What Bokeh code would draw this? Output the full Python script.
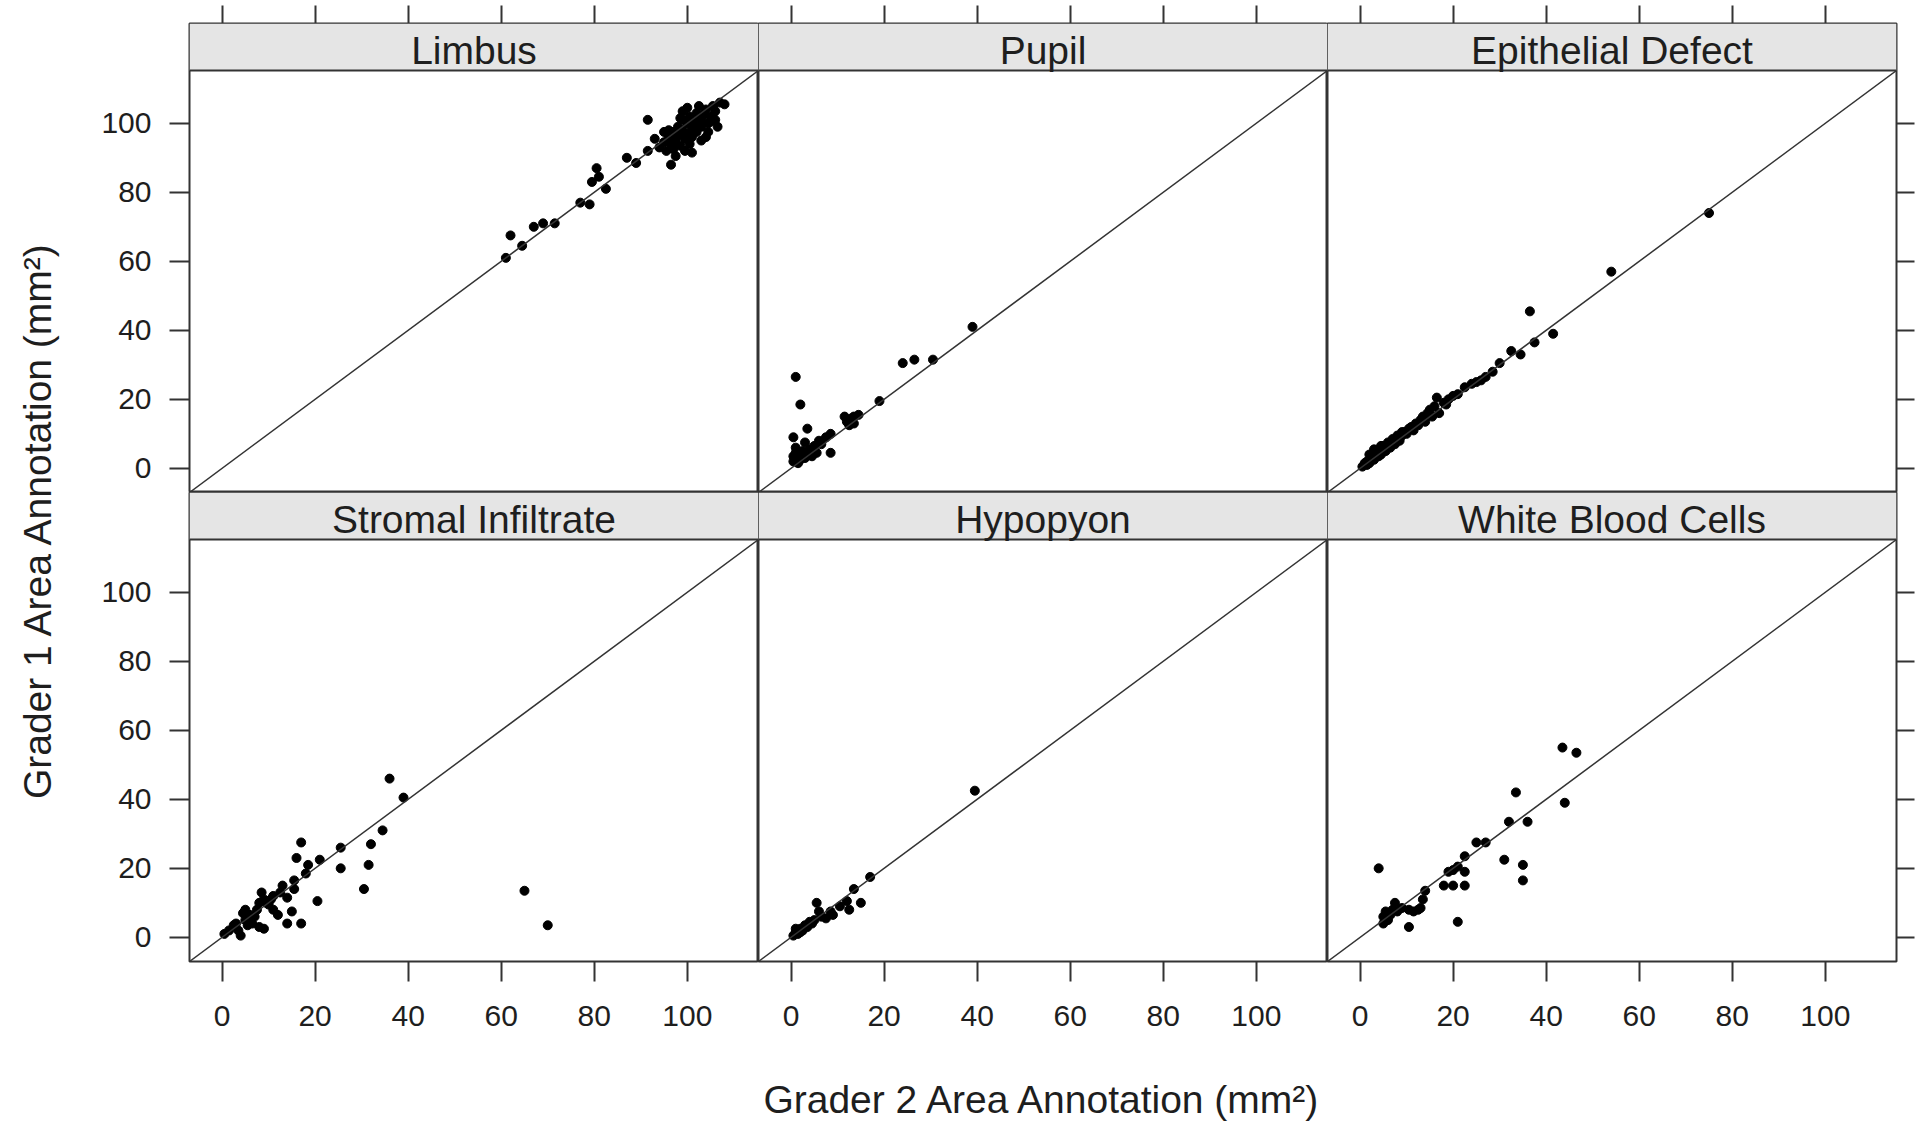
from bokeh.plotting import figure
from bokeh.models import (Range1d, LinearAxis, FixedTicker, Slope, BoxAnnotation, Span,
                          Label, CustomJSTickFormatter)
from bokeh.layouts import gridplot, column, row
from bokeh.embed import file_html
from bokeh.resources import INLINE

# ---------------- data (Grader 2 = x, Grader 1 = y), mm^2 ----------------
panel_names = ["Limbus", "Pupil", "Epithelial Defect",
               "Stromal Infiltrate", "Hypopyon", "White Blood Cells"]
tick_values = [0, 20, 40, 60, 80, 100]

limbus_g2 = [61, 62, 64.5, 67, 69, 71.5, 77, 79, 79.5, 81,
             80.5, 82.5, 87, 89, 91.5, 91.5, 93, 96.5, 94, 95,
             95.5, 96, 96.5, 97, 97, 97.5, 98, 98, 98.5, 99,
             99, 99.5, 100, 100, 100.5, 100.5, 101, 101, 101.5, 102,
             102, 102.5, 103, 103, 103.5, 104, 104, 104.5, 105, 105.5,
             106, 106.5, 107, 108, 96, 98.5, 100, 102.5, 104.5, 97.5,
             99.5, 101, 95, 103, 105, 99, 106]
limbus_g1 = [61, 67.5, 64.5, 70, 71, 71, 77, 76.5, 83, 84.5,
             87, 81, 90, 88.5, 92, 101, 95.5, 88, 93, 94.5,
             92, 96, 94, 97.5, 92.5, 95, 99, 96.5, 93.5, 98,
             101, 95.5, 97, 100, 102, 94, 98.5, 96, 100.5, 103,
             97.5, 99.5, 101, 95, 102.5, 96, 104, 100, 102, 105,
             103.5, 99, 106, 105.5, 98, 101.5, 104.5, 105, 97.5, 90.5,
             92, 91.5, 97.5, 99, 100.5, 103.5, 101]

pupil_g2 = [1, 2, 3.5, 0.5, 1, 1.5, 0.5, 2, 3.5, 5,
            6, 6.5, 4, 3, 1.5, 0.5, 5.5, 7.5, 8.5, 8.5,
            2.5, 4.5, 3, 1, 11.5, 13, 13.5, 14.5, 12.5, 13.5,
            12, 19, 24, 26.5, 30.5, 39]
pupil_g1 = [26.5, 18.5, 11.5, 9, 6, 3.5, 2, 2.5, 4.5, 6.5,
            8, 7, 5.5, 3, 1.5, 3.5, 4.5, 9, 10, 4.5,
            5, 3.5, 7.5, 4.5, 15, 14.5, 13, 15.5, 12.5, 15,
            13.5, 19.5, 30.5, 31.5, 31.5, 41]

epi_g2 = [0.5, 1, 1.5, 2, 2, 2.5, 3, 3, 3.5, 4,
          4, 4.5, 5, 5, 5.5, 6, 6, 6.5, 7, 7,
          7.5, 8, 8, 8.5, 9, 9.5, 10, 10.5, 11, 11.5,
          12, 12.5, 13, 13.5, 14, 14.5, 15, 15.5, 16, 16.5,
          17, 18, 18.5, 19, 20, 21, 22.5, 24, 25, 26,
          27, 28.5, 30, 32.5, 34.5, 36.5, 37.5, 41.5, 54, 75,
          3, 2, 4.5, 9, 1.5]
epi_g1 = [0.5, 1.5, 2, 1.5, 2.5, 3, 2.5, 3.5, 4.5, 3.5,
          5, 4, 5.5, 6.5, 5, 6.5, 7.5, 6, 7.5, 8.5,
          7, 8.5, 9.5, 8, 9.5, 10.5, 10, 11.5, 12, 11,
          13, 12.5, 14, 15, 13.5, 16, 17, 15, 18, 20.5,
          16, 19, 18.5, 20, 21, 21.5, 23.5, 24.5, 25, 25.5,
          26.5, 28, 30.5, 34, 33, 45.5, 36.5, 39, 57, 74,
          5.5, 4, 6.5, 10.5, 1]

stromal_g2 = [0.5, 1.5, 2.5, 3.5, 4, 4.5, 5, 5.5, 6, 6.5,
              7, 5, 7.5, 8, 8.5, 9, 9.5, 10, 10.5, 11,
              9, 12, 12.5, 13, 14, 14, 15, 15.5, 15.5, 16,
              17, 17, 18, 18.5, 20.5, 21, 25.5, 25.5, 30.5, 31.5,
              32, 34.5, 36, 39, 65, 70, 3, 6, 11, 8]
stromal_g1 = [1, 2, 3.5, 2, 0.5, 7, 5, 3.5, 4.5, 4,
              6, 8, 8, 3, 13, 2.5, 10, 9.5, 11, 12,
              11, 6.5, 13, 15, 4, 11.5, 7.5, 14, 16.5, 23,
              4, 27.5, 18.5, 21, 10.5, 22.5, 26, 20, 14, 21,
              27, 31, 46, 40.5, 13.5, 3.5, 4, 6.5, 8, 10]

hypopyon_g2 = [0.5, 1, 1.5, 2, 2.5, 3, 3.5, 4, 4.5, 5,
               5.5, 6, 6.5, 7.5, 8.5, 9, 10.5, 12, 12.5, 13.5,
               15, 17, 39.5, 1, 2]
hypopyon_g1 = [0.5, 1.5, 1, 2.5, 2, 3.5, 3, 4.5, 4, 5,
               10, 7.5, 6, 5.5, 7.5, 6.5, 9, 10.5, 8, 14,
               10, 17.5, 42.5, 2.5, 1.5]

wbc_g2 = [4, 5, 5, 5.5, 6, 6.5, 7, 7.5, 8, 9,
          10.5, 10.5, 11.5, 12.5, 13, 13.5, 14, 18, 19, 20,
          20, 21, 21, 22.5, 22.5, 22.5, 25, 27, 31, 32,
          33.5, 35, 35, 36, 43.5, 44, 46.5]
wbc_g1 = [20, 4, 6, 7.5, 5, 6.5, 8, 10, 7.5, 8.5,
          3, 8, 7.5, 8, 8.5, 11, 13.5, 15, 19, 15,
          19.5, 4.5, 20.5, 15, 19, 23.5, 27.5, 27.5, 22.5, 33.5,
          42, 21, 16.5, 33.5, 55, 39, 53.5]

panel_x = [limbus_g2, pupil_g2, epi_g2, stromal_g2, hypopyon_g2, wbc_g2]
panel_y = [limbus_g1, pupil_g1, epi_g1, stromal_g1, hypopyon_g1, wbc_g1]

# ---------------- layout / style ----------------
LIM_LO, LIM_HI = -7.0, 115.3
FRAME_W = 569
PANEL_H = 422
STRIP_H = 47
PPU_Y = PANEL_H / (LIM_HI - LIM_LO)
STRIP_UNITS = STRIP_H / PPU_Y

B_L, B_R, B_T, B_B = 100, 20, 23, 84
YLAB_W, XLAB_H = 89, 81

LINE = "#333333"
TEXT = "#1e1e1e"
STRIP_FILL = "#e5e5e5"
FONT = "Liberation Sans"

xr = Range1d(LIM_LO, LIM_HI)
yr = Range1d(LIM_LO, LIM_HI + STRIP_UNITS)


def make_axis(labels, tick_out, standoff=18):
    ax = LinearAxis(
        ticker=FixedTicker(ticks=tick_values),
        axis_line_color=None,
        major_tick_in=0, major_tick_out=tick_out,
        major_tick_line_color=LINE, major_tick_line_width=2,
        minor_tick_line_color=None,
        major_label_standoff=standoff if labels else 0,
        major_label_text_font=FONT,
        major_label_text_font_size="30px" if labels else "1px",
        major_label_text_color=TEXT,
    )
    if not labels:
        ax.formatter = CustomJSTickFormatter(code="return ''")
    return ax


figs = []
for i, name in enumerate(panel_names):
    r, c = divmod(i, 3)
    p = figure(frame_width=FRAME_W, frame_height=PANEL_H + STRIP_H,
               x_range=xr, y_range=yr,
               output_backend="svg", toolbar_location=None,
               x_axis_location=None, y_axis_location=None,
               min_border_left=B_L if c == 0 else 0,
               min_border_right=B_R if c == 2 else 0,
               min_border_top=B_T if r == 0 else 0,
               min_border_bottom=B_B if r == 1 else 0,
               outline_line_color=LINE, outline_line_width=2,
               background_fill_color="white", border_fill_color="white")
    p.grid.visible = False
    if c == 0:
        p.add_layout(make_axis(True, 20, 18), "left")
    if c == 2:
        p.add_layout(make_axis(False, 18), "right")
    if r == 0:
        p.add_layout(make_axis(False, 18), "above")
    if r == 1:
        p.add_layout(make_axis(True, 20, 24), "below")

    p.add_layout(Slope(gradient=1, y_intercept=0, line_color=LINE, line_width=1.5))
    p.scatter(x=panel_x[i], y=panel_y[i], size=9, marker="circle",
              fill_color="black", line_color="black")
    p.add_layout(BoxAnnotation(bottom=LIM_HI, fill_color=STRIP_FILL, fill_alpha=1,
                               line_color=None))
    p.add_layout(Span(location=LIM_HI, dimension="width", line_color=LINE, line_width=2))
    p.add_layout(Label(x=(LIM_LO + LIM_HI) / 2, y=LIM_HI + (STRIP_H / 2 - 3) / PPU_Y,
                       text=name, text_align="center", text_baseline="middle",
                       text_font=FONT, text_font_size="39px", text_color=TEXT))
    figs.append(p)

grid = gridplot([figs[:3], figs[3:]], toolbar_location=None)

GRID_H = B_T + 2 * (PANEL_H + STRIP_H) + B_B
GRID_W = B_L + 3 * FRAME_W + B_R


def blank_fig(w, h):
    f = figure(width=w, height=h, x_range=Range1d(0, w), y_range=Range1d(0, h),
               output_backend="svg", toolbar_location=None,
               x_axis_location=None, y_axis_location=None,
               min_border=0, outline_line_color=None,
               background_fill_color="white", border_fill_color="white")
    f.grid.visible = False
    return f


ylab = blank_fig(YLAB_W, GRID_H)
ylab.add_layout(Label(x=37, y=GRID_H - 519, angle=90, angle_units="deg",
                      text="Grader 1 Area Annotation (mm\u00b2)",
                      text_align="center", text_baseline="middle",
                      text_font=FONT, text_font_size="39px", text_color=TEXT))

xlab = blank_fig(YLAB_W + GRID_W, XLAB_H)
xlab.add_layout(Label(x=YLAB_W + B_L + 1.5 * FRAME_W, y=XLAB_H - (1099 - GRID_H),
                      text="Grader 2 Area Annotation (mm\u00b2)",
                      text_align="center", text_baseline="middle",
                      text_font=FONT, text_font_size="39px", text_color=TEXT))

layout = column(row(ylab, grid), xlab)

open("out.html", "w").write(file_html(layout, INLINE, "Grader agreement"))
